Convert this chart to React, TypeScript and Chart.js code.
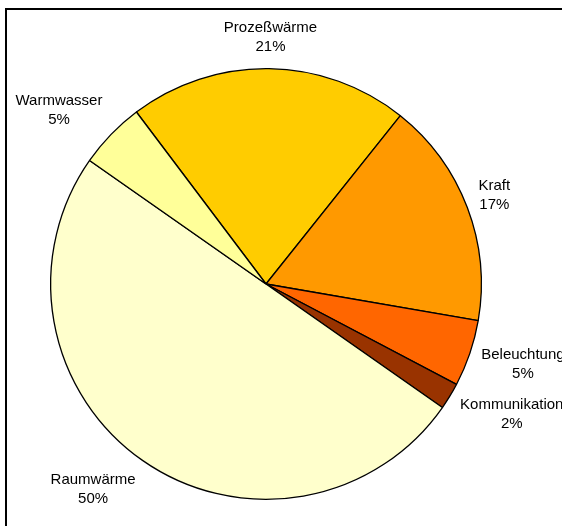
import React, { useEffect, useRef } from "react";
import { Chart, registerables } from "chart.js";

Chart.register(...registerables);

// Energy use by purpose, in percent
const categories = ["Prozeßwärme", "Kraft", "Beleuchtung", "Kommunikation", "Raumwärme", "Warmwasser"];
const shares = [21, 17, 5, 2, 50, 5];
const sliceColors = ["#FFCC00", "#FF9900", "#FF6600", "#993300", "#FFFFCC", "#FFFF99"];

const WIDTH = 562;
const HEIGHT = 526;
const FONT = '15px "Liberation Sans", Arial, sans-serif';

const clamp = (v: number) => Math.max(-1, Math.min(1, v));

// Frame line around the chart area
const framePlugin = {
  id: "frame",
  beforeDraw(chart: any) {
    const ctx = chart.ctx;
    ctx.save();
    ctx.fillStyle = "#ffffff";
    ctx.fillRect(0, 0, chart.width, chart.height);
    ctx.strokeStyle = "#000000";
    ctx.lineWidth = 2;
    ctx.strokeRect(6, 9, chart.width + 20, chart.height + 20);
    ctx.restore();
  },
};

// Category name and percentage placed just outside each slice
const outsideLabels = {
  id: "outsideLabels",
  afterDatasetsDraw(chart: any) {
    const ctx = chart.ctx;
    const meta = chart.getDatasetMeta(0);
    const values: number[] = chart.data.datasets[0].data;
    const total = values.reduce((a, b) => a + b, 0);
    const gap = 12;
    const lineH = 19;
    ctx.save();
    ctx.font = FONT;
    ctx.fillStyle = "#000000";
    ctx.textAlign = "center";
    ctx.textBaseline = "middle";
    meta.data.forEach((arc: any, i: number) => {
      const { x, y, startAngle, endAngle, outerRadius } = arc.getProps(
        ["x", "y", "startAngle", "endAngle", "outerRadius"],
        true
      );
      const mid = (startAngle + endAngle) / 2;
      const ux = Math.cos(mid);
      const uy = Math.sin(mid);
      const name = chart.data.labels[i] as string;
      const pct = Math.round((values[i] / total) * 100) + "%";
      const w = Math.max(ctx.measureText(name).width, ctx.measureText(pct).width);
      const h = lineH * 2;
      const ax = x + (outerRadius + gap) * ux;
      const ay = y + (outerRadius + gap) * uy;
      const cx = ax + (w / 2) * clamp(2 * ux);
      const cy = ay + (h / 2) * clamp(1.2 * uy);
      ctx.fillText(name, cx, cy - lineH / 2);
      ctx.fillText(pct, cx, cy + lineH / 2);
    });
    ctx.restore();
  },
};

export default function App() {
  const canvasRef = useRef<HTMLCanvasElement | null>(null);

  useEffect(() => {
    if (!canvasRef.current) return;
    const chart = new Chart(canvasRef.current, {
      type: "pie",
      data: {
        labels: categories,
        datasets: [
          {
            data: shares,
            backgroundColor: sliceColors,
            borderColor: "#000000",
            borderWidth: 1.3,
          },
        ],
      },
      options: {
        responsive: false,
        animation: false,
        devicePixelRatio: 1,
        rotation: -37,
        layout: { padding: { left: 50, right: 80, top: 68, bottom: 26 } },
        plugins: {
          legend: { display: false },
          tooltip: { enabled: false },
        },
      },
      plugins: [framePlugin, outsideLabels],
    });
    return () => chart.destroy();
  }, []);

  return (
    <div style={{ position: "absolute", left: 0, top: 0, width: WIDTH, height: HEIGHT }}>
      <canvas ref={canvasRef} width={WIDTH} height={HEIGHT} style={{ display: "block" }} />
    </div>
  );
}
